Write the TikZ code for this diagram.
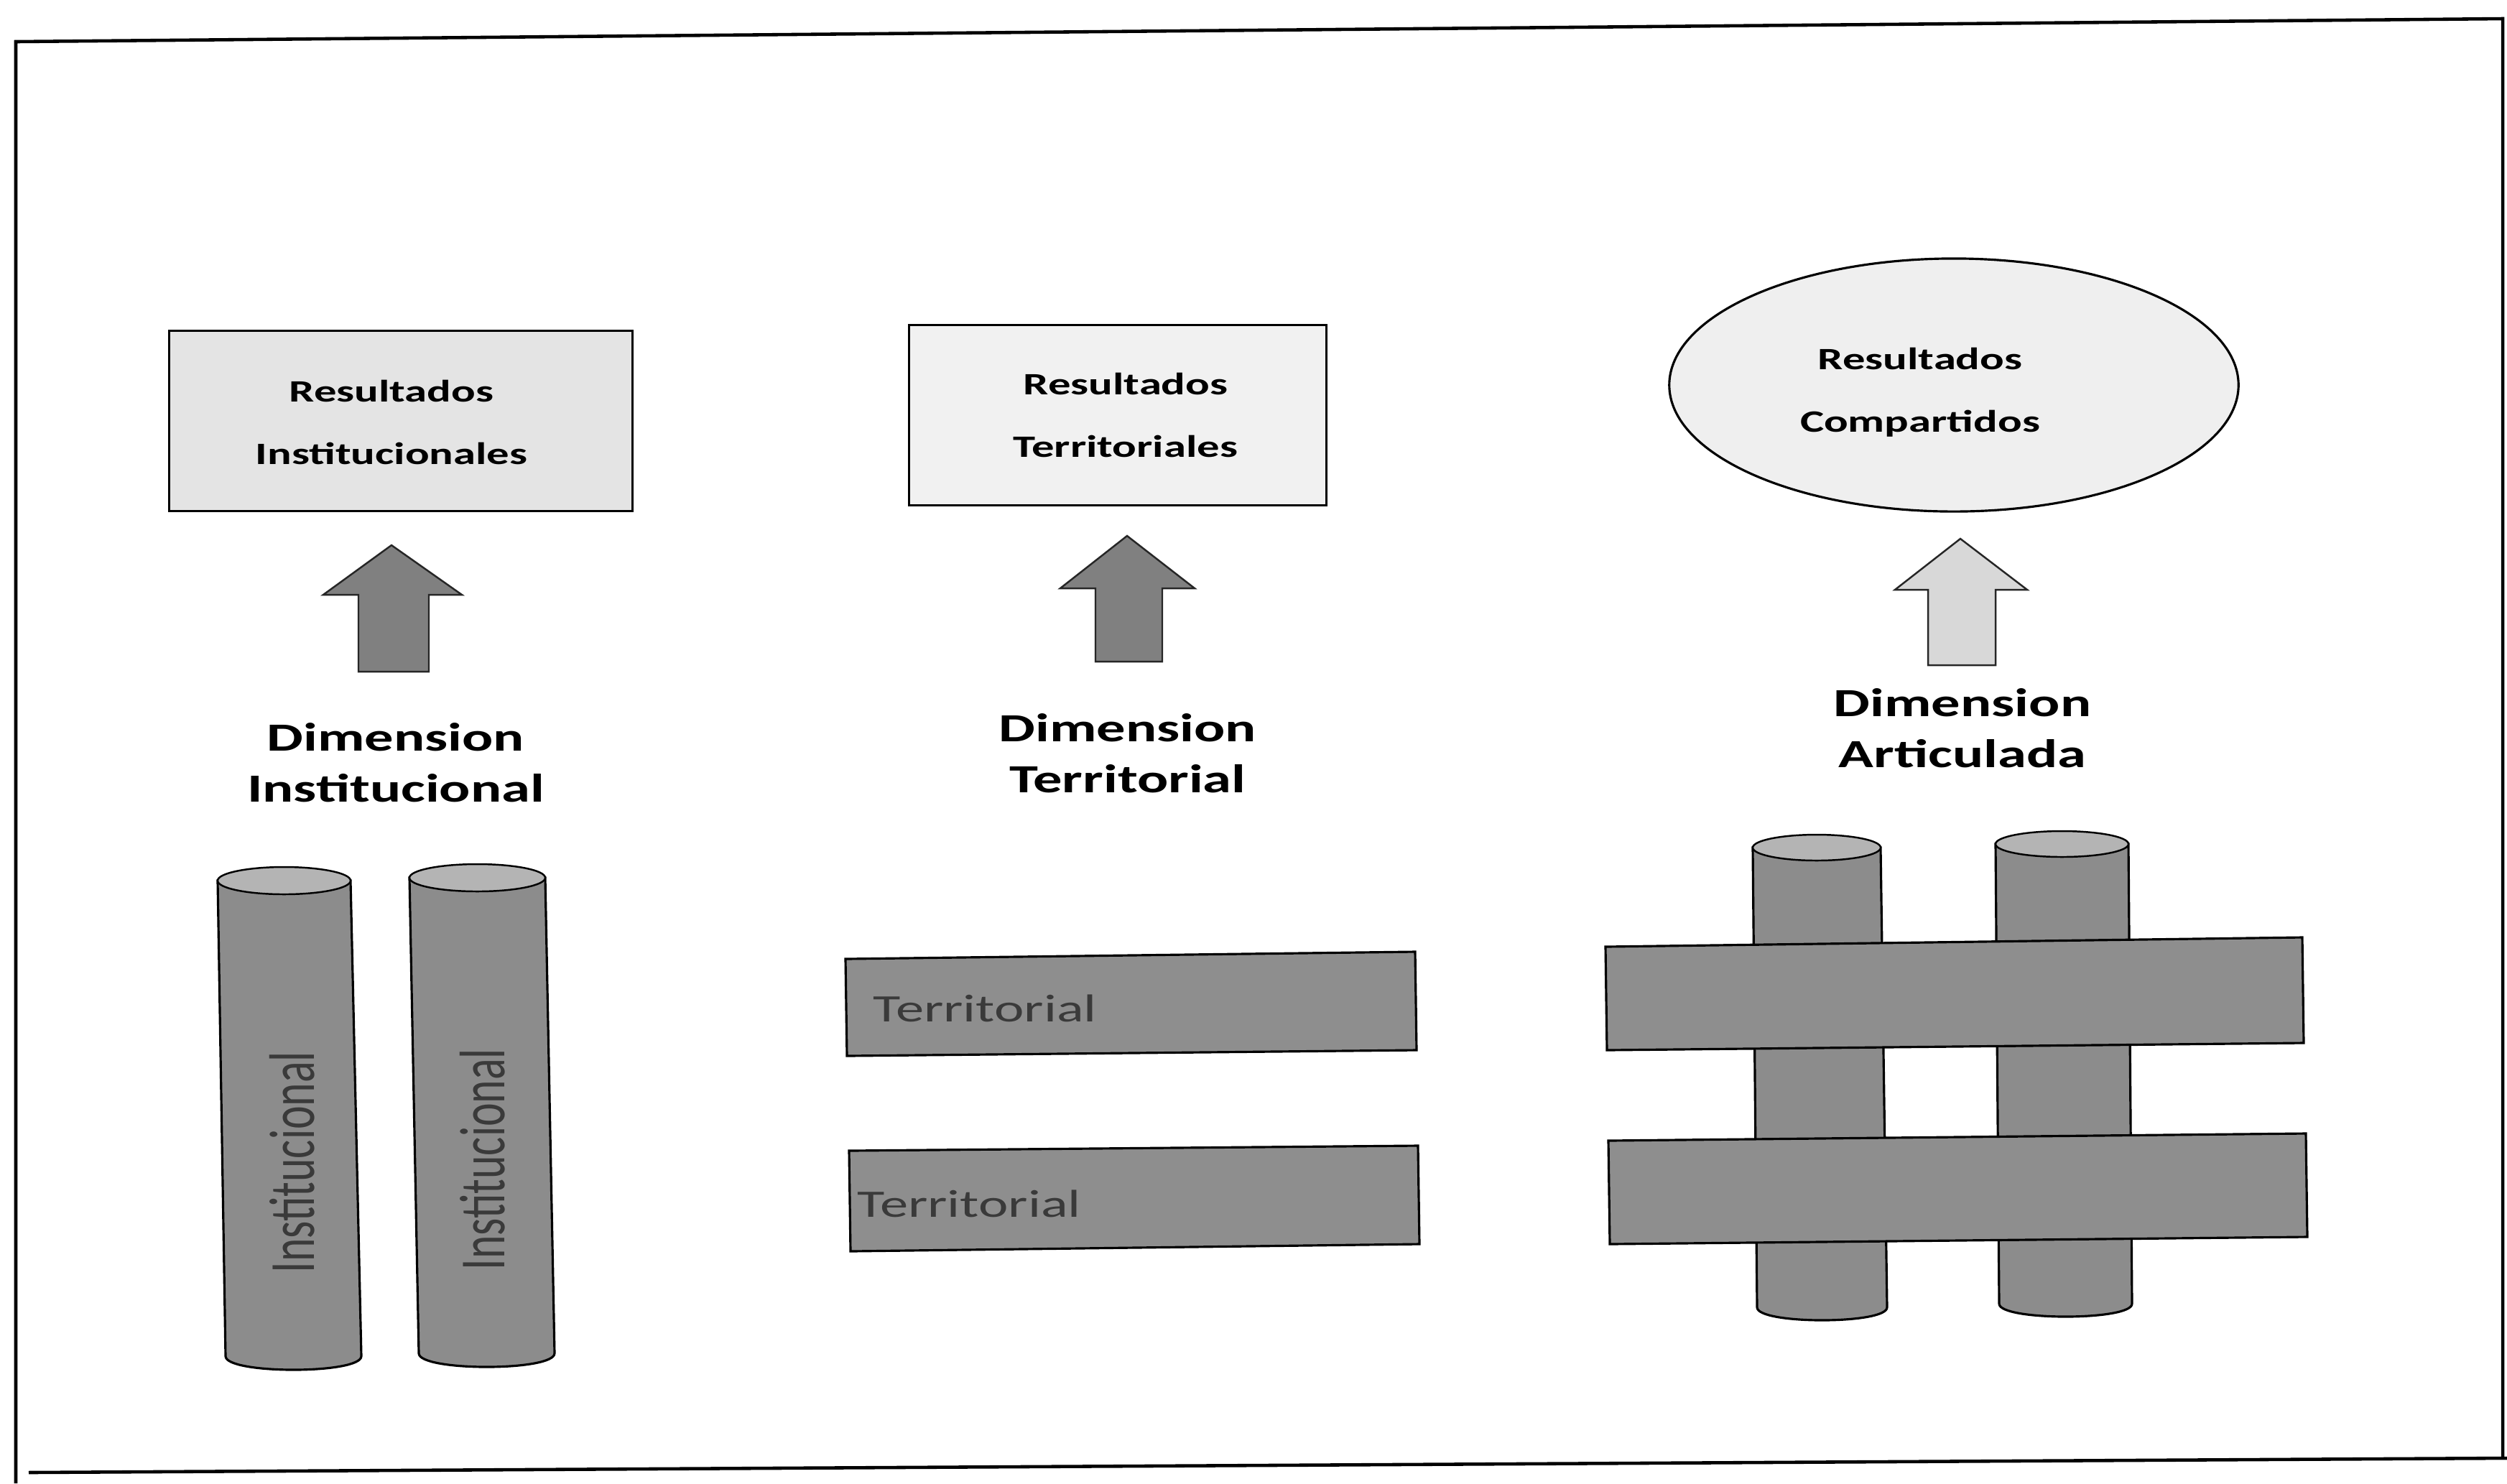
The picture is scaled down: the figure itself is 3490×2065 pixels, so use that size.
\documentclass[tikz,border=0pt]{standalone}
\usepackage{fontspec}
\setmainfont{Carlito}
\newfontfamily\wideb[FakeStretch=1.45]{Carlito}
\newfontfamily\narrowf[FakeStretch=0.69]{Carlito}
\usetikzlibrary{shapes.geometric}
\definecolor{cylbody}{HTML}{8C8C8C}
\definecolor{cyltopc}{HTML}{B4B4B4}
\definecolor{barc}{HTML}{8E8E8E}
\definecolor{arrdark}{HTML}{808080}
\definecolor{arrlight}{HTML}{D8D8D8}
\definecolor{boxone}{HTML}{E4E4E4}
\definecolor{boxtwo}{HTML}{F1F1F1}
\definecolor{ellc}{HTML}{EFEFEF}
\definecolor{textgray}{HTML}{3A3A3A}
\newcommand\mycyl[7]{%
  \filldraw[cylst] (#1,#3) -- (#4,#6) .. controls (#4,#6+1.333*#7) and (#5,#6+1.333*#7) .. (#5,#6) -- (#2,#3) -- cycle;
  \filldraw[cyltopst] ({(#1+#2)/2},#3) ellipse [x radius={(#2-#1)/2}, y radius=#7];
}
\begin{document}
\begin{tikzpicture}[x=0.01cm,y=-0.01cm,
  frame/.style={draw=black, line width=1.3pt},
  resbox/.style={draw=black, line width=0.9pt, fill=#1, rectangle, inner sep=0pt},
  boxtext/.style={font=\wideb\bfseries\fontsize{12.3}{24.8}\selectfont, align=center, inner sep=0pt},
  dimtext/.style={font=\wideb\bfseries\fontsize{15.8}{20.2}\selectfont, align=center, inner sep=0pt},
  bartext/.style={font=\wideb\fontsize{15.4}{18}\selectfont, text=textgray, anchor=west, inner sep=0pt},
  cyltext/.style={font=\narrowf\fontsize{25.5}{30}\selectfont, text=textgray, rotate=90, inner sep=0pt},
  blockarrow/.style={draw=black!85, line width=0.7pt, fill=#1},
  cylst/.style={draw=black, line width=0.9pt, fill=cylbody},
  cyltopst/.style={draw=black, line width=0.7pt, fill=cyltopc},
  barst/.style={draw=black, line width=0.9pt, fill=barc}]
\useasboundingbox (0,0) rectangle (3490,2065);
\fill[white] (0,0) rectangle (3490,2065);
% frame
\draw[frame] (22,2065) -- (22,58) -- (3484,26) -- (3484,2030);
\draw[frame] (3490,2030) -- (40,2050);

% ---------- column 1 ----------
\node[resbox=boxone, minimum width=6.45cm, minimum height=2.51cm] (res1) at (558,586) {};
\node[boxtext] (res1t) at (545,588) {Resultados\\Institucionales};
\filldraw[blockarrow=arrdark] (545,759) -- (643,828) -- (597,828) -- (597,935) -- (499,935) -- (499,828) -- (450,828) -- cycle;
\node[dimtext] (dim1) at (551,1062) {Dimension\\Institucional};
\mycyl{303}{488}{1226}{314}{503}{1888}{19}
\mycyl{570}{759}{1222}{583}{772}{1884}{19}
\node[cyltext] (cyl1t) at (407,1618) {Institucional};
\node[cyltext] (cyl2t) at (672,1614) {Institucional};

% ---------- column 2 ----------
\node[resbox=boxtwo, minimum width=5.81cm, minimum height=2.51cm] (res2) at (1556,578) {};
\node[boxtext] (res2t) at (1567,578) {Resultados\\Territoriales};
\filldraw[blockarrow=arrdark] (1569,746) -- (1663,819) -- (1618,819) -- (1618,921) -- (1525,921) -- (1525,819) -- (1476,819) -- cycle;
\node[dimtext] (dim2) at (1570,1049) {Dimension\\Territorial};
\filldraw[barst] (1177,1335) -- (1970,1325) -- (1972,1462) -- (1179,1470) -- cycle;
\filldraw[barst] (1182,1602) -- (1974,1595) -- (1976,1732) -- (1184,1742) -- cycle;
\node[bartext] (bar1t) at (1215,1404) {Territorial};
\node[bartext] (bar2t) at (1193,1676) {Territorial};

% ---------- column 3 ----------
\node[ellipse, draw=black, line width=0.9pt, fill=ellc, minimum width=7.92cm, minimum height=3.52cm, inner sep=0pt] (ell) at (2720,536) {};
\node[boxtext] (ellt) at (2673,546) {Resultados\\Compartidos};
\filldraw[blockarrow=arrlight] (2729,750) -- (2822,821) -- (2778,821) -- (2778,926) -- (2684,926) -- (2684,821) -- (2638,821) -- cycle;
\node[dimtext] (dim3) at (2732,1014) {Dimension\\Articulada};
\mycyl{2440}{2618}{1180}{2446}{2627}{1820}{18}
\mycyl{2778}{2963}{1175}{2783}{2968}{1815}{18}
\filldraw[barst] (2235,1318) -- (3205,1305) -- (3207,1452) -- (2237,1462) -- cycle;
\filldraw[barst] (2239,1588) -- (3210,1578) -- (3212,1722) -- (2241,1732) -- cycle;
\end{tikzpicture}
\end{document}
